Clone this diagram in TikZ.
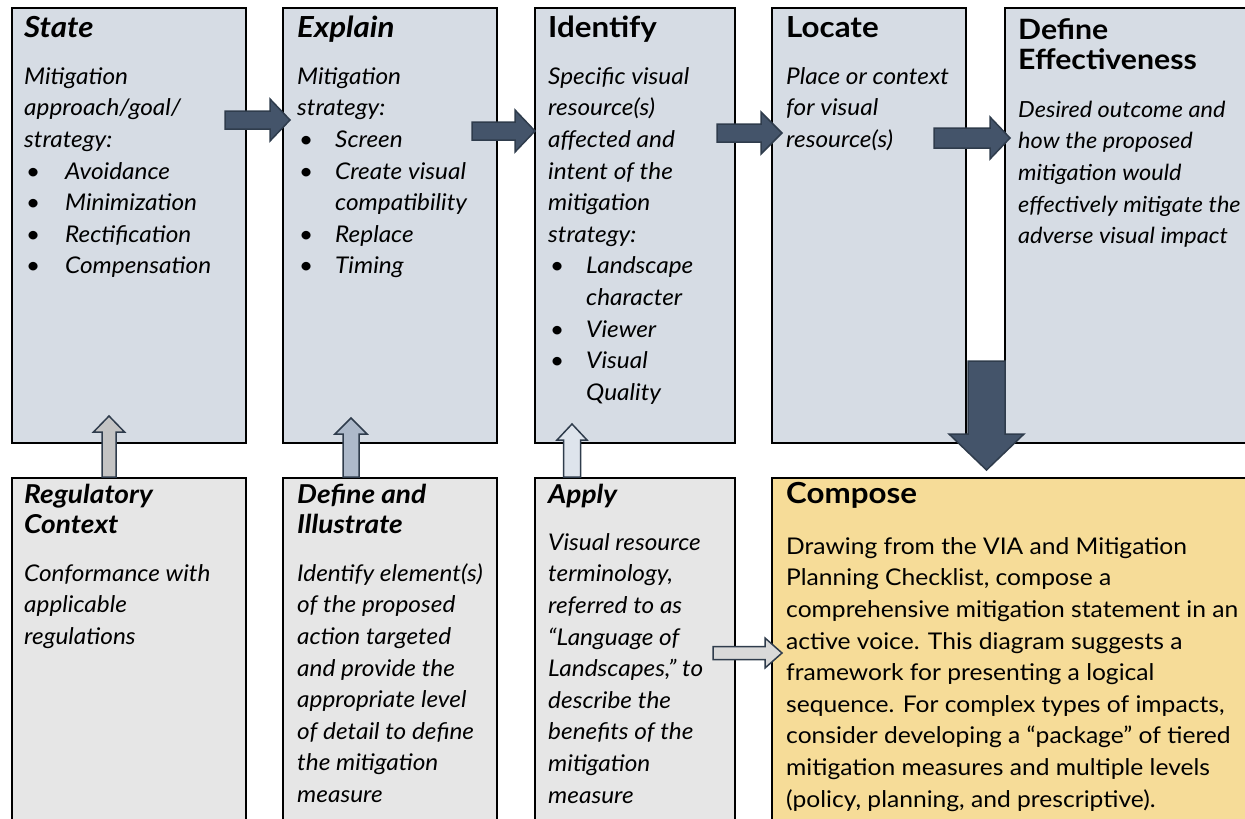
\documentclass[tikz,border=0pt]{standalone}
\usepackage{fontspec}
\setmainfont{Lato}[UprightFeatures={FakeStretch=1.07}, ItalicFeatures={FakeStretch=1.06}, BoldFeatures={FakeStretch=1.08}, BoldItalicFeatures={FakeStretch=1.08}]
\usetikzlibrary{calc}
\definecolor{topfill}{HTML}{D6DCE4}
\definecolor{botfill}{HTML}{E6E6E6}
\definecolor{compfill}{HTML}{F6DC98}
\definecolor{arrdark}{HTML}{44546A}
\definecolor{arredge}{HTML}{2F3C4C}
\definecolor{upA}{HTML}{C4C4C4}
\definecolor{upB}{HTML}{ADB9CA}
\definecolor{upC}{HTML}{DEE4EC}
\definecolor{rfill}{HTML}{D9D9D9}
\newcommand\bodyfont{\fontsize{23}{31.6}\selectfont}
\newcommand\titlefont{\fontsize{29}{30}\selectfont\bfseries}
\newcommand\smalltitlefont{\fontsize{26}{30}\selectfont\bfseries}
\newcommand\bul[1][38pt]{\makebox[#1][l]{\hspace{2pt}\textbullet}}
\newcommand\bulind{\hspace*{38pt}}
% block arrows: style, start, length, shaft half, head half, head length
\newcommand\rblock[6]{\draw[#1] (#2) ++(0,-#4) -- ++({#3-#6},0) -- ++(0,{-(#5-#4)}) -- ++(#6,#5) -- ++(-#6,#5) -- ++(0,{-(#5-#4)}) -- ++({-(#3-#6)},0) -- cycle;}
\newcommand\ublock[6]{\draw[#1] (#2) ++(-#4,0) -- ++(0,{-(#3-#6)}) -- ++({-(#5-#4)},0) -- ++(#5,-#6) -- ++(#5,#6) -- ++({-(#5-#4)},0) -- ++(0,{#3-#6}) -- cycle;}
\newcommand\dblock[6]{\draw[#1] (#2) ++(-#4,0) -- ++(0,{#3-#6}) -- ++({-(#5-#4)},0) -- ++(#5,#6) -- ++(#5,-#6) -- ++({-(#5-#4)},0) -- ++(0,{-(#3-#6)}) -- cycle;}
\begin{document}
\begin{tikzpicture}[x=1pt,y=-1pt,
  box/.style={draw=black, line width=2pt, inner sep=0pt, anchor=north west},
  topbox/.style={box, fill=topfill, minimum height=435pt},
  botbox/.style={box, fill=botfill, minimum height=360pt},
  compbox/.style={box, fill=compfill, minimum height=360pt},
  title/.style={font=\titlefont, inner sep=0pt, anchor=north west, align=left},
  smalltitle/.style={title, font=\smalltitlefont},
  body/.style={font=\bodyfont\itshape, inner sep=0pt, anchor=north west, align=left},
  darkarrow/.style={fill=arrdark, draw=arredge, line width=1.5pt},
  lightarrow/.style={draw=arredge, line width=1.5pt}]
\useasboundingbox (0,0) rectangle (1245,819);
\clip (0,0) rectangle (1245,819);
\fill[white] (0,0) rectangle (1245,819);
% top row
\node[topbox, minimum width=234pt] (state) at (11,7) {};
\node[topbox, minimum width=214pt] (explain) at (282,7) {};
\node[topbox, minimum width=200pt] (identify) at (534,7) {};
\node[topbox, minimum width=194pt] (locate) at (771,7) {};
\node[topbox, minimum width=260pt] (defeff) at (1004,7) {};
% bottom row
\node[botbox, minimum width=234pt] (reg) at (11,477) {};
\node[botbox, minimum width=214pt] (defill) at (282,477) {};
\node[botbox, minimum width=200pt] (apply) at (534,477) {};
\node[compbox, minimum width=490pt] (compose) at (771,477) {};
% texts top
\node[title] (t1) at (24,16) {\strut\itshape State};
\node[body] (b1) at (24,62) {\strut Mitigation\\approach/goal/\\strategy:\\\bul[41pt]Avoidance\\\bul[41pt]Minimization\\\bul[41pt]Rectification\\\bul[41pt]Compensation};
\node[title] (t2) at (297,16) {\strut\itshape Explain};
\node[body] (b2) at (297,62) {\strut Mitigation\\strategy:\\\bul Screen\\\bul Create visual\\\bulind compatibility\\\bul Replace\\\bul Timing};
\node[title] (t3) at (548,16) {\strut Identify};
\node[body] (b3) at (548,62) {\strut Specific visual\\resource(s)\\affected and\\intent of the\\mitigation\\strategy:\\\bul Landscape\\\bulind character\\\bul Viewer\\\bul Visual\\\bulind Quality};
\node[title] (t4) at (786,16) {\strut Locate};
\node[body] (b4) at (786,62) {\strut Place or context\\for visual\\resource(s)};
\node[title, font=\fontsize{28}{30}\selectfont\bfseries] (t5) at (1018,18) {\strut Define\\Effectiveness};
\node[body, font=\fontsize{22.2}{31.6}\selectfont\itshape] (b5) at (1018,95) {\strut Desired outcome and\\how the proposed\\mitigation would\\effectively mitigate the\\adverse visual impact};
% texts bottom
\node[smalltitle] (t6) at (24,482) {\strut\itshape Regulatory\\\itshape Context};
\node[body] (b6) at (24,559) {\strut Conformance with\\applicable\\regulations};
\node[smalltitle] (t7) at (297,482) {\strut\itshape Define and\\\itshape Illustrate};
\node[body] (b7) at (297,559) {\strut Identify element(s)\\of the proposed\\action targeted\\and provide the\\appropriate level\\of detail to define\\the mitigation\\measure};
\node[smalltitle] (t8) at (548,482) {\strut\itshape Apply};
\node[body] (b8) at (548,528) {\strut Visual resource\\terminology,\\referred to as\\“Language of\\Landscapes,” to\\describe the\\benefits of the\\mitigation\\measure};
\node[title] (t9) at (786,482) {\strut Compose};
\node[body, font=\bodyfont\upshape] (b9) at (786,532) {\strut Drawing from the VIA and Mitigation\\Planning Checklist, compose a\\comprehensive mitigation statement in an\\active voice. This diagram suggests a\\framework for presenting a logical\\sequence. For complex types of impacts,\\consider developing a “package” of tiered\\mitigation measures and multiple levels\\(policy, planning, and prescriptive).};
% arrows between boxes
\coordinate (a1) at ($(state.east |- 0,120)+(-22,0)$);
\coordinate (a2) at ($(explain.east |- 0,131)+(-26,0)$);
\coordinate (a3) at ($(identify.east |- 0,133)+(-19,0)$);
\coordinate (a4) at ($(locate.east |- 0,138)+(-33,0)$);
\rblock{darkarrow}{a1}{65}{9}{21}{20}
\rblock{darkarrow}{a2}{63}{9}{21}{20}
\rblock{darkarrow}{a3}{65}{9}{21}{21}
\rblock{darkarrow}{a4}{76}{10}{21}{20}
\coordinate (d1) at ($(locate.east |- 0,361)+(19.5,0)$);
\dblock{darkarrow}{d1}{109}{18.5}{37.5}{36}
\coordinate (u1) at (reg.north -| 109,0);
\coordinate (u2) at (defill.north -| 351,0);
\coordinate (u3) at (apply.north -| 572,0);
\ublock{lightarrow, fill=upA}{u1}{61}{7}{15.5}{16}
\ublock{lightarrow, fill=upB}{u2}{59}{8}{16}{16}
\ublock{lightarrow, fill=upC}{u3}{53}{8.5}{15}{16}
\coordinate (r1) at ($(apply.east |- 0,653)+(-23,0)$);
\rblock{lightarrow, fill=rfill}{r1}{69}{6.5}{15}{17}
\end{tikzpicture}
\end{document}
